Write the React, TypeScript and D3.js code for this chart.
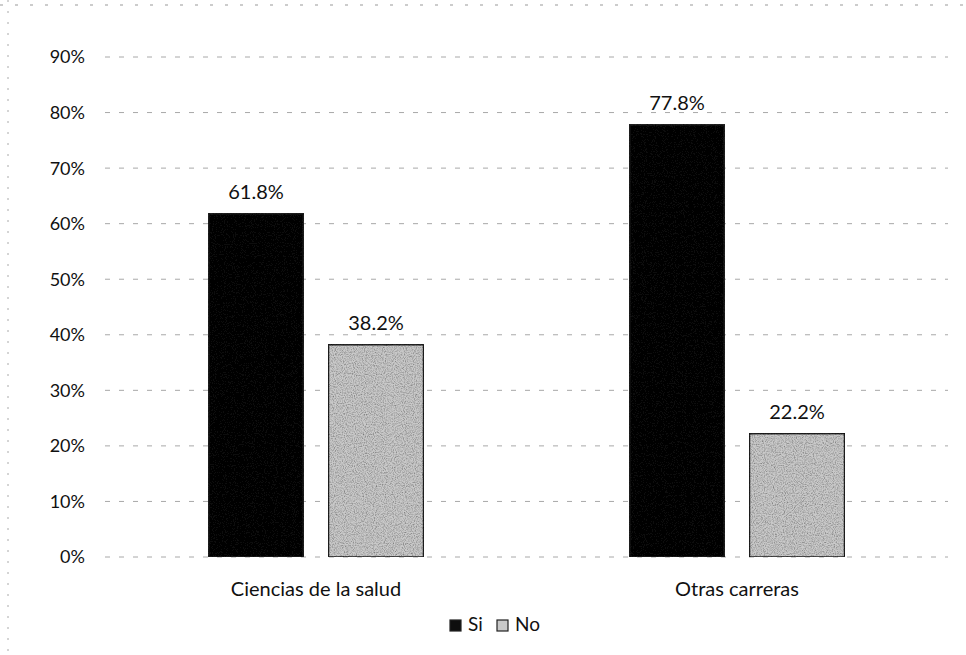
import React from "react";
import * as d3 from "d3";

const categories = ["Ciencias de la salud", "Otras carreras"];
const seriesNames = ["Si", "No"];
const siValues = [61.8, 77.8];
const noValues = [38.2, 22.2];
const yTicks = [0, 10, 20, 30, 40, 50, 60, 70, 80, 90];

const W = 966;
const H = 655;
const FONT = "Lato, 'Open Sans', sans-serif";

export default function App() {
  const x0 = d3.scaleBand<string>().domain(categories).range([105.5, 947.5]);
  const y = d3.scaleLinear().domain([0, 90]).range([557, 57]);
  const colors: Record<string, string> = { Si: "#0e0e0e", No: "#c9c9c9" };
  const data = categories.map((c, i) => ({ cat: c, vals: [siValues[i], noValues[i]] }));
  const bw = 95;

  return (
    <svg width={W} height={H} style={{ position: "absolute", left: 0, top: 0, background: "#fff" }}>
      <defs>
        <filter id="noise" x="0" y="0" width="100%" height="100%">
          <feTurbulence type="fractalNoise" baseFrequency="0.9" numOctaves="2" seed="3" result="t" />
          <feColorMatrix in="t" type="matrix" values="0 0 0 0 0  0 0 0 0 0  0 0 0 0 0  0 0 0 1.3 -0.5" result="n" />
          <feComposite in="n" in2="SourceGraphic" operator="in" result="m" />
          <feMerge>
            <feMergeNode in="SourceGraphic" />
            <feMergeNode in="m" />
          </feMerge>
        </filter>
      </defs>
      <rect width={W} height={H} fill="#fff" />
      <line x1={0} x2={W} y1={5} y2={5} stroke="#999" strokeDasharray="3 12" strokeWidth={1} />
      <line x1={8} x2={8} y1={0} y2={H} stroke="#aaa" strokeDasharray="2 9" strokeWidth={1} />
      {yTicks.map((t) => (
        <g key={t}>
          <line x1={105} x2={948} y1={y(t)} y2={y(t)} stroke="#a8a8a8" strokeDasharray="5 9" strokeWidth={1} />
          <text x={85} y={y(t)} dy="0.36em" textAnchor="end" fontFamily={FONT} fontSize={18} fill="#111">
            {t}%
          </text>
        </g>
      ))}
      {data.map((d) => {
        const cx = (x0(d.cat) as number) + x0.bandwidth() / 2;
        return (
          <g key={d.cat}>
            {d.vals.map((v, j) => {
              const name = seriesNames[j];
              const bx = cx + (j === 0 ? -12.5 - bw : 12.5);
              return (
                <g key={name}>
                  <rect
                    x={bx}
                    y={y(v)}
                    width={bw}
                    height={y(0) - y(v)}
                    fill={colors[name]}
                    stroke="#222"
                    strokeWidth={1.5}
                    filter="url(#noise)"
                  />
                  <text x={bx + bw / 2} y={y(v) - 15} textAnchor="middle" fontFamily={FONT} fontSize={20} fill="#111">
                    {v.toFixed(1)}%
                  </text>
                </g>
              );
            })}
            <text x={cx} y={596} textAnchor="middle" fontFamily={FONT} fontSize={20} fill="#111">
              {d.cat}
            </text>
          </g>
        );
      })}
      <g>
        {seriesNames.map((s, i) => {
          const lx = 450 + i * 47;
          return (
            <g key={s}>
              <rect x={lx} y={620} width={11} height={11} fill={colors[s]} stroke="#222" strokeWidth={1.2} />
              <text x={lx + 18} y={631} fontFamily={FONT} fontSize={19} fill="#111">
                {s}
              </text>
            </g>
          );
        })}
      </g>
    </svg>
  );
}
